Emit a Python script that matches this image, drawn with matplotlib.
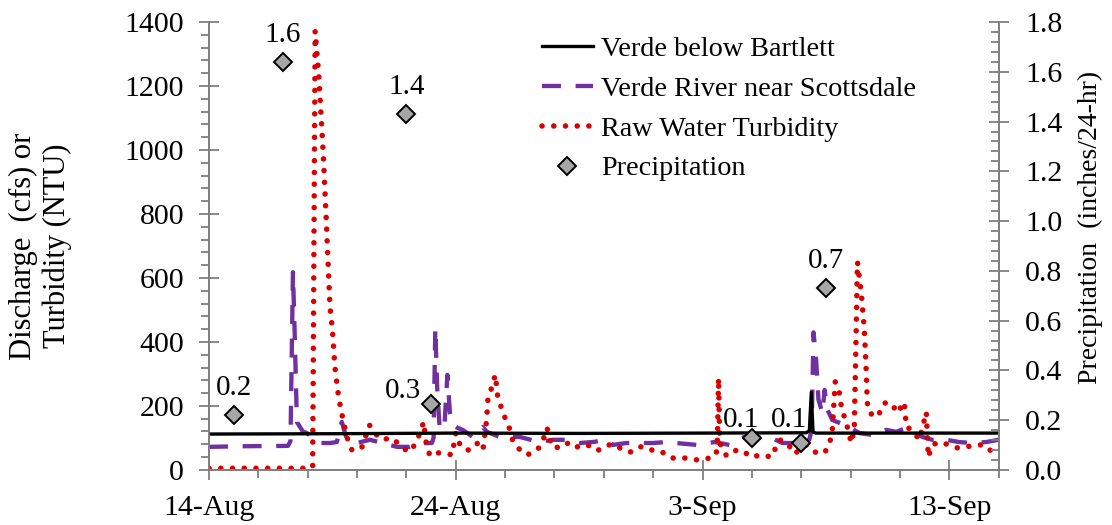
import datetime as dt
import matplotlib
matplotlib.use("Agg")
import matplotlib.pyplot as plt
import matplotlib.dates as mdates
from matplotlib.ticker import MultipleLocator, FuncFormatter

plt.rcParams['font.family'] = ['Liberation Serif', 'DejaVu Serif']

START = dt.datetime(2019, 8, 14)

# days after 14-Aug and values
bartlett_days = [0, 5, 10, 15, 20, 24.2, 24.33, 24.41, 24.48, 24.6, 28, 32]
bartlett_cfs = [112, 113, 115, 114, 115, 116, 122, 243, 118, 115, 115, 115]

scottsdale_days = [0, 1.5, 3.2, 3.3, 3.4, 3.48, 3.56, 3.8, 3.97, 4.2, 4.5, 4.9, 5.18,
                   5.38, 5.59, 5.99, 6.52, 7.04, 7.61, 8.14, 8.66, 9.03, 9.1, 9.17,
                   9.25, 9.35, 9.55, 9.66, 9.76, 9.9, 10.08, 10.28, 10.69, 11.09,
                   11.26, 11.78, 12.59, 13.4, 13.93, 14.49, 15.02, 15.55, 16.11,
                   16.36, 16.92, 17.45, 17.98, 18.54, 19.76, 20.49, 21.09, 21.7,
                   22.31, 22.71, 23.24, 23.81, 24.33, 24.42, 24.5, 24.6, 24.7, 24.86,
                   24.95, 25.05, 25.26, 25.55, 25.95, 26.36, 26.88, 27.45, 27.85,
                   28.26, 28.5, 28.91, 29.31, 29.88, 30.4, 30.93, 31.5, 32]
scottsdale_cfs = [72, 74, 75, 90, 618, 400, 150, 120, 115, 100, 84, 84, 87,
                  150, 94, 84, 94, 84, 72, 72, 84, 84, 100, 444,
                  250, 125, 150, 297, 180, 140, 131, 125, 103, 134,
                  119, 103, 103, 87, 94, 94, 84, 87, 94,
                  78, 84, 84, 84, 87, 78, 87, 78, 103,
                  100, 103, 84, 84, 94, 125, 430, 350, 220, 178,
                  250, 190, 156, 147, 134, 115, 109, 125, 119,
                  131, 119, 103, 94, 94, 87, 84, 87, 94]

turbidity_days = [0, 1, 2, 3, 4, 4.2, 4.3, 4.45, 4.62, 4.74, 4.9, 5.0, 5.1, 5.25,
                  5.43, 5.6, 5.8, 6.2, 6.5, 6.8, 7.0, 7.4, 7.6, 7.85, 8.1, 8.4,
                  8.7, 8.75, 8.8, 8.95, 9.25, 9.45, 9.85, 10.0, 10.2, 10.5, 10.85,
                  11.1, 11.25, 11.3, 11.45, 11.6, 11.7, 11.85, 12.0, 12.2, 12.3,
                  12.6, 12.9, 13.3, 13.5, 13.7, 13.9, 14.3, 14.6, 15.0, 15.5, 15.8,
                  16.2, 16.5, 16.75, 17.1, 17.45, 17.7, 18.1, 18.5, 18.8, 19.3,
                  19.8, 20.3, 20.55, 20.6, 20.65, 20.7, 20.97, 21.3, 21.58, 21.98,
                  22.39, 22.79, 23.12, 23.44, 23.72, 24.21, 24.62, 24.94, 25.14,
                  25.26, 25.38, 25.55, 25.63, 25.75, 25.87, 26.03, 26.15, 26.22,
                  26.28, 26.44, 26.56, 26.64, 26.68, 26.76, 27.09, 27.37, 27.65,
                  27.9, 28.18, 28.26, 28.5, 28.79, 29.07, 29.15, 29.31, 29.6, 30.0,
                  30.32, 30.69, 31.09, 31.42, 31.74, 32]
turbidity_ntu = [5, 5, 5, 5, 5, 8, 1372, 1230, 1000, 800, 510, 437, 322, 228,
                 156, 100, 60, 72, 140, 109, 94, 100, 87, 69, 56, 84,
                 150, 115, 84, 44, 53, 53, 47, 115, 72, 62, 84,
                 62, 156, 219, 256, 297, 228, 194, 162, 125, 94,
                 62, 47, 62, 84, 131, 72, 69, 87, 69, 78, 62,
                 78, 78, 62, 56, 72, 72, 56, 53, 37, 37,
                 31, 37, 47, 78, 287, 84, 44, 60, 62, 40,
                 47, 40, 94, 84, 50, 78, 53, 53, 78,
                 125, 275, 240, 197, 165, 134, 84, 125, 400,
                 650, 550, 437, 300, 209, 178, 165, 209, 209,
                 178, 212, 134, 125, 94, 181, 40, 78, 87, 78,
                 69, 72, 78, 78, 56, 60]

precip_days = [1, 3, 8, 9, 22, 24, 25]
precip_in = [0.22, 1.64, 1.43, 0.265, 0.13, 0.11, 0.73]
precip_labels = ['0.2', '1.6', '1.4', '0.3', '0.1', '0.1', '0.7']
label_offsets = [(0, 10), (0, 10), (0, 10), (-20, 0), (-8, 3), (-9, 7), (0, 10)]


def to_dates(days):
    return [START + dt.timedelta(days=d) for d in days]


fig = plt.figure(figsize=(11.12, 5.25), dpi=100)
ax = fig.add_axes([0.188, 0.105, 0.71, 0.853])
ax2 = ax.twinx()

ax.plot(to_dates(bartlett_days), bartlett_cfs, color='black', lw=2.4,
        label='Verde below Bartlett', zorder=3)
ax.plot(to_dates(scottsdale_days), scottsdale_cfs, color='#7030A0', lw=3.1,
        linestyle=(0, (4.4, 3.4)), label='Verde River near Scottsdale', zorder=2)
ax.plot(to_dates(turbidity_days), turbidity_ntu, color='#D80000', lw=4.0,
        linestyle=(0, (0.01, 2.1)), dash_capstyle='round',
        label='Raw Water Turbidity', zorder=2)
pts, = ax2.plot(to_dates(precip_days), precip_in, linestyle='none', marker='D',
                markersize=9, markerfacecolor='#A6A6A6', markeredgecolor='black',
                markeredgewidth=1.4, label='Precipitation', zorder=4)
for d, v, lab, off in zip(precip_days, precip_in, precip_labels, label_offsets):
    ax2.annotate(lab, (START + dt.timedelta(days=d), v), xytext=off,
                 textcoords='offset points', ha='center', va='bottom', fontsize=21)

ax.set_xlim(START, START + dt.timedelta(days=32))
ax.set_ylim(0, 1400)
ax2.set_ylim(0, 1.8)

ax.set_xticks(to_dates([0, 10, 20, 30]))
ax.set_xticks(to_dates(range(0, 33, 2)), minor=True)
ax.xaxis.set_major_formatter(FuncFormatter(
    lambda x, p: f"{mdates.num2date(x).day}-{mdates.num2date(x).strftime('%b')}"))
ax.yaxis.set_major_locator(MultipleLocator(200))
ax.yaxis.set_minor_locator(MultipleLocator(40))
ax2.yaxis.set_major_locator(MultipleLocator(0.2))
ax2.yaxis.set_minor_locator(MultipleLocator(0.04))
ax2.yaxis.set_major_formatter(FuncFormatter(lambda x, p: f"{x:.1f}"))

gray = '#7F7F7F'
for a in (ax, ax2):
    a.spines['top'].set_visible(False)
    for s in ('left', 'right', 'bottom'):
        a.spines[s].set_color(gray)
        a.spines[s].set_linewidth(1.3)
ax.tick_params(axis='both', which='major', direction='inout', length=14, width=1.3,
               color=gray, labelsize=21.5)
ax.tick_params(axis='y', which='major', pad=11)
ax.tick_params(axis='x', which='major', pad=11)
ax.tick_params(axis='both', which='minor', direction='out', length=6, width=1.3, color=gray)
ax2.tick_params(axis='y', which='major', direction='inout', length=14, width=1.3,
                color=gray, labelsize=21.5, pad=12)
ax2.tick_params(axis='y', which='minor', direction='in', length=6, width=1.3, color=gray)

ax.set_ylabel('Discharge  (cfs) or\nTurbidity (NTU)', fontsize=22)
ax.yaxis.set_label_coords(-0.173, 0.5)
ax2.set_ylabel('Precipitation  (inches/24-hr)', fontsize=20)
ax2.yaxis.set_label_coords(1.100, 0.542)

handles, labels = ax.get_legend_handles_labels()
handles.append(pts)
labels.append('Precipitation')
ax.legend(handles, labels, loc='upper left', bbox_to_anchor=(0.404, 1.0),
          frameon=False, fontsize=20.3, handlelength=1.8, handletextpad=0.3,
          labelspacing=0.5, borderaxespad=0.1)

fig.savefig('out.png', dpi=100)
plt.close(fig)
